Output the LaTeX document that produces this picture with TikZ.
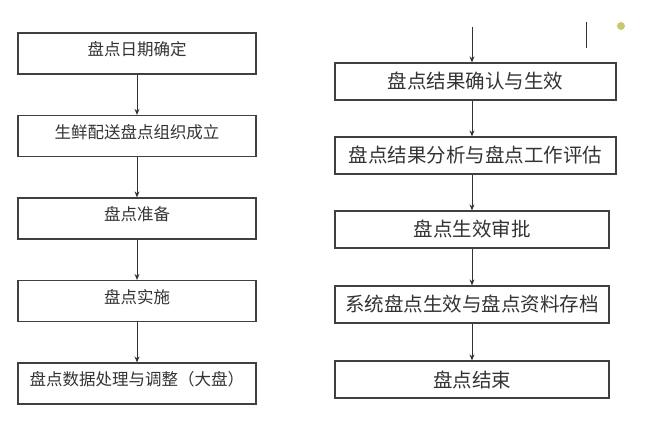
\documentclass[tikz,border=0pt]{standalone}
\usepackage{fontspec}
\newfontfamily\cjk{Noto Sans CJK SC}
\usetikzlibrary{positioning,arrows.meta}
\definecolor{dotyellow}{RGB}{200,200,110}

\begin{document}
\begin{tikzpicture}[x=1pt,y=-1pt,on grid,>={Stealth[length=6pt,width=5pt]}]
      \tikzset{flowbox/.style={draw=black!75,line width=1.2pt,rectangle,inner sep=0pt,text=black!80}}
      \tikzset{lbox/.style={flowbox,minimum width=238pt,minimum height=41pt,font=\cjk\fontsize{16.5}{18}\selectfont,text depth=10pt}}
      \tikzset{rbox/.style={flowbox,minimum width=274pt,minimum height=37pt,font=\cjk\fontsize{19.5}{22}\selectfont}}
      \tikzset{flow/.style={->,draw=black!80,line width=1pt}}

      \useasboundingbox (0,0) rectangle (646,427);

      % left column
      \node[lbox] (l1) at (137,53.5) {盘点日期确定};
      \node[lbox] (l2) [below = 82.5pt of l1] {生鲜配送盘点组织成立};
      \node[lbox] (l3) [below = 82.5pt of l2] {盘点准备};
      \node[lbox] (l4) [below = 82.5pt of l3] {盘点实施};
      \node[lbox] (l5) [below = 82.5pt of l4] {盘点数据处理与调整（大盘）};

      % right column
      \coordinate (top) at (472,27);
      \node[rbox,minimum width=281pt] (r1) at (475.5,81.5) {盘点结果确认与生效};
      \node[rbox,minimum width=281pt] (r2) [below = 74pt of r1] {盘点结果分析与盘点工作评估};
      \node[rbox] (r3) [below = 74pt of r2, xshift=-3.5pt] {盘点生效审批};
      \node[rbox] (r4) [below = 75pt of r3] {系统盘点生效与盘点资料存档};
      \node[rbox] (r5) [below = 75pt of r4] {盘点结束};

      \draw[flow] (l1.south) -- (l2.north);
      \draw[flow] (l2.south) -- (l3.north);
      \draw[flow] (l3.south) -- (l4.north);
      \draw[flow] (l4.south) -- (l5.north);

      \draw[flow] (top) -- (top |- r1.north);
      \draw[flow] (top |- r1.south) -- (top |- r2.north);
      \draw[flow] (top |- r2.south) -- (top |- r3.north);
      \draw[flow] (r3.south) -- (r4.north);
      \draw[flow] (r4.south) -- (r5.north);

      % marks at the top right
      \draw[black!80,line width=1pt] (586,22) -- (586,48);
      \fill[dotyellow] (621,26) circle (4pt);
\end{tikzpicture}
\end{document}
